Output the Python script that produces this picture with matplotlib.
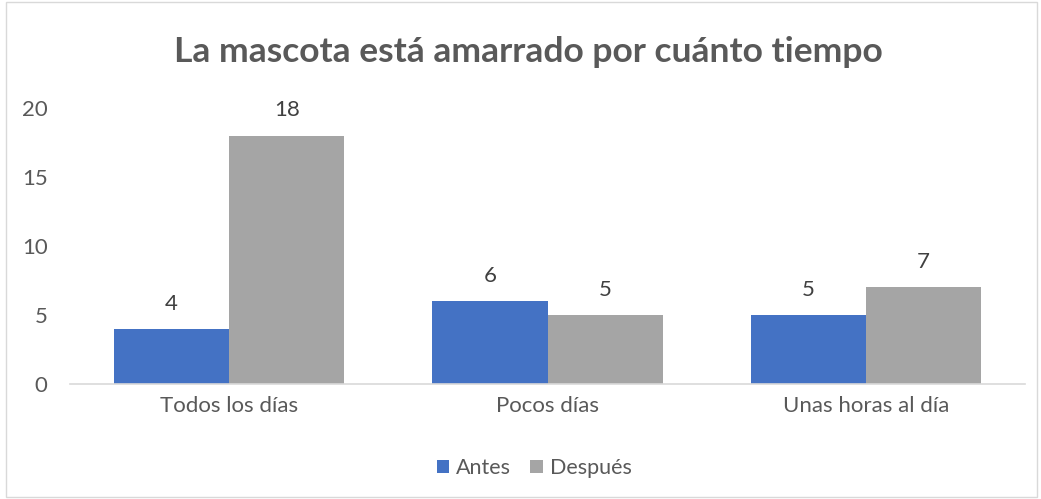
import numpy as np
import matplotlib as mpl
import matplotlib.pyplot as plt
from matplotlib.patches import Rectangle

mpl.rcParams.update({
    "font.family": ["Lato", "DejaVu Sans"],
    "font.size": 16,
})

# datos
categorias = ["Todos los días", "Pocos días", "Unas horas al día"]
antes = [4, 6, 5]
despues = [18, 5, 7]
series = ["Antes", "Después"]
titulo = "La mascota está amarrado por cuánto tiempo"

azul = "#4472C4"
gris = "#A5A5A5"
texto = "#595959"

fig = plt.figure(figsize=(10.41, 4.99), dpi=100)
ax = fig.add_axes([0.0672, 0.2305, 0.9175, 0.553])

x = np.arange(len(categorias))
w = 0.362
b1 = ax.bar(x - w / 2, antes, w, color=azul, label=series[0])
b2 = ax.bar(x + w / 2, despues, w, color=gris, label=series[1])

for barras in (b1, b2):
    for r in barras:
        ax.annotate(f"{r.get_height():g}", xy=(r.get_x() + r.get_width() / 2, r.get_height()),
                    xytext=(0, 11), textcoords="offset points", ha="center", va="bottom",
                    fontsize=16, color="#404040")

ax.set_xlim(-0.5, 2.5)
ax.set_ylim(0, 20)
ax.set_yticks([0, 5, 10, 15, 20])
ax.set_xticks(x)
ax.set_xticklabels(categorias)
ax.tick_params(axis="both", length=0, labelsize=16, colors=texto)
ax.tick_params(axis="x", pad=9)
ax.tick_params(axis="y", pad=16)
for s in ["top", "right", "left"]:
    ax.spines[s].set_visible(False)
ax.spines["bottom"].set_color("#D9D9D9")
ax.spines["bottom"].set_linewidth(1.2)

fig.text(0.508, 0.895, titulo, ha="center", va="center", fontsize=25.5, fontweight="bold", color=texto)

fig.legend(handles=[b1, b2], labels=series, loc="center", bbox_to_anchor=(0.513, 0.062),
           ncol=2, frameon=False, fontsize=15.5, handlelength=0.6, handleheight=0.6,
           columnspacing=0.9, handletextpad=0.3, labelcolor=texto)

# borde del gráfico
fig.patches.append(Rectangle((0.006, 0.004), 0.99, 0.992, transform=fig.transFigure,
                             fill=False, edgecolor="#D9D9D9", lw=1))

fig.savefig("out.png", dpi=100)
